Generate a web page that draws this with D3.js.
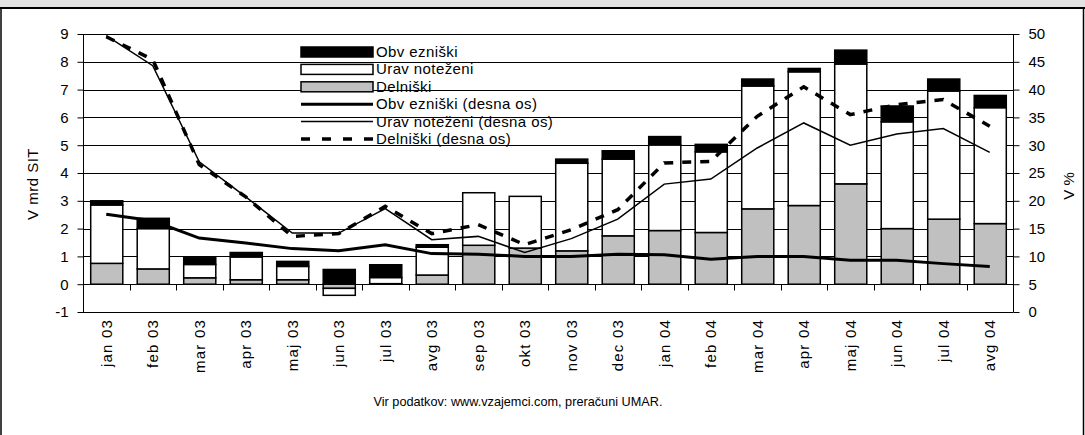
<!DOCTYPE html>
<html><head><meta charset="utf-8">
<script src="https://cdn.jsdelivr.net/npm/d3@7"></script>
<style>
html,body{margin:0;padding:0;background:#fff;}
svg{display:block;font-family:"Liberation Sans",Arial,sans-serif;}
</style></head>
<body>
<svg id="c" width="1085" height="435"></svg>
<script>
const categories = ["jan 03","feb 03","mar 03","apr 03","maj 03","jun 03","jul 03","avg 03","sep 03","okt 03","nov 03","dec 03","jan 04","feb 04","mar 04","apr 04","maj 04","jun 04","jul 04","avg 04"];
// bars, V mrd SIT
const delniski   = [0.75,0.55,0.23,0.16,0.16,-0.15,0.02,0.33,1.40,1.30,1.20,1.74,1.93,1.86,2.71,2.83,3.61,2.00,2.34,2.18];
const uravnotezeni = [2.10,1.45,0.48,0.82,0.48,-0.25,0.22,1.00,1.89,1.86,3.15,2.76,3.08,2.90,4.42,4.81,4.31,3.84,4.61,4.17];
const obvezniski = [0.15,0.37,0.24,0.16,0.18,0.53,0.46,0.09,0.00,0.00,0.15,0.30,0.30,0.27,0.25,0.12,0.50,0.57,0.43,0.44];
// lines, V % (right axis)
const obvezniskiPct = [17.6,16.4,13.3,12.4,11.4,11.0,12.1,10.5,10.4,10.0,10.0,10.4,10.3,9.5,10.0,10.0,9.3,9.3,8.7,8.2];
const uravnotezeniPct = [49.7,44.3,27.0,20.7,14.2,14.2,18.6,13.0,13.6,10.7,13.2,16.7,23.0,23.9,29.5,34.0,30.0,32.0,33.0,28.7];
const delniskiPct = [49.5,45.4,26.5,20.7,13.6,14.1,19.0,14.1,15.7,12.1,14.8,18.4,26.8,27.1,35.2,40.5,35.5,37.3,38.2,33.4];
const leftTicks = [-1,0,1,2,3,4,5,6,7,8,9];
const rightTicks = [0,5,10,15,20,25,30,35,40,45,50];
const legendLabels = ["Obv ezniški","Urav noteženi","Delniški","Obv ezniški (desna os)","Urav noteženi (desna os)","Delniški (desna os)"];
const leftTitle = "V mrd SIT", rightTitle = "V %";
const source = "Vir podatkov: www.vzajemci.com, preračuni UMAR.";

const svg = d3.select("#c");
const L = 83, R = 1013, T = 34, B = 312;

// frame
svg.append("rect").attr("x",0).attr("y",0).attr("width",1085).attr("height",8).attr("fill","#e3e3e3");
svg.append("line").attr("x1",0).attr("x2",1085).attr("y1",8).attr("y2",8).attr("stroke","#000").attr("stroke-width",2);
svg.append("line").attr("x1",1).attr("x2",1).attr("y1",8).attr("y2",435).attr("stroke","#000").attr("stroke-width",1.5);
svg.append("line").attr("x1",1083.5).attr("x2",1083.5).attr("y1",8).attr("y2",435).attr("stroke","#000").attr("stroke-width",1.5);

const x = d3.scaleBand().domain(categories).range([L,R]).paddingInner(0).paddingOuter(0);
const yL = d3.scaleLinear().domain([-1,9]).range([B,T]);
const yR = d3.scaleLinear().domain([0,50]).range([B,T]);
const crisp = v => Math.round(v)+0.5;

// gridlines
svg.append("g").selectAll("line").data(leftTicks).join("line")
  .attr("x1",L).attr("x2",R).attr("y1",d=>crisp(yL(d))).attr("y2",d=>crisp(yL(d)))
  .attr("stroke","#000").attr("stroke-width",1);

// bars
const rows = categories.map((c,i)=>({cat:c, D:delniski[i], U:uravnotezeni[i], O:obvezniski[i]}));
const stack = d3.stack().keys(["D","U","O"]).offset(d3.stackOffsetDiverging)(rows);
const fills = {D:"#c0c0c0", U:"#ffffff", O:"#000000"};
const bw = x.bandwidth()*0.69;
stack.forEach(layer=>{
  svg.append("g").selectAll("rect").data(layer.filter(d=>d[1]!==d[0])).join("rect")
    .attr("x", d=>x(d.data.cat)+(x.bandwidth()-bw)/2+0.5)
    .attr("width", bw)
    .attr("y", d=>yL(Math.max(d[0],d[1])))
    .attr("height", d=>Math.abs(yL(d[0])-yL(d[1])))
    .attr("fill", fills[layer.key]).attr("stroke","#000").attr("stroke-width",1.5);
});

// axes
svg.append("line").attr("x1",L+0.5).attr("x2",L+0.5).attr("y1",T).attr("y2",B+0.5).attr("stroke","#000");
svg.append("line").attr("x1",R+0.5).attr("x2",R+0.5).attr("y1",T).attr("y2",B+0.5).attr("stroke","#000");
const gl = svg.append("g").attr("transform",`translate(${L+0.5},0)`)
  .call(d3.axisLeft(yL).tickValues(leftTicks).tickSize(6).tickPadding(9).tickFormat(d=>String(d)));
const gr = svg.append("g").attr("transform",`translate(${R+0.5},0)`)
  .call(d3.axisRight(yR).tickValues(rightTicks).tickSize(6).tickPadding(9).tickFormat(d=>String(d)));
[gl,gr].forEach(g=>{
  g.select(".domain").remove();
  g.selectAll(".tick line").attr("stroke","#000");
  g.selectAll(".tick text").attr("font-size",15).attr("fill","#000").attr("font-family","Liberation Sans, Arial, sans-serif");
});
// category axis at zero
const y0 = crisp(yL(0));
svg.append("g").selectAll("line").data(categories.slice(1)).join("line")
  .attr("x1",d=>crisp(x(d))).attr("x2",d=>crisp(x(d))).attr("y1",y0).attr("y2",y0+6)
  .attr("stroke","#000");
svg.append("g").selectAll("text").data(categories).join("text")
  .attr("transform",d=>`translate(${x(d)+x.bandwidth()/2+5.5},319) rotate(-90)`)
  .attr("text-anchor","end").attr("font-size",15).attr("letter-spacing",1.2).attr("fill","#000").text(d=>d);

// lines
const lineGen = d3.line().x((d,i)=>x(categories[i])+x.bandwidth()/2).y(d=>yR(d));
svg.append("path").datum(uravnotezeniPct).attr("d",lineGen).attr("fill","none").attr("stroke","#000").attr("stroke-width",1.5);
svg.append("path").datum(delniskiPct).attr("d",lineGen).attr("fill","none").attr("stroke","#000").attr("stroke-width",3.5).attr("stroke-dasharray","9,9");
svg.append("path").datum(obvezniskiPct).attr("d",lineGen).attr("fill","none").attr("stroke","#000").attr("stroke-width",3);

// axis titles
svg.append("text").attr("transform","translate(38,184) rotate(-90)").attr("text-anchor","middle").attr("font-size",15).attr("letter-spacing",0.5).text(leftTitle);
svg.append("text").attr("transform","translate(1074,186) rotate(-90)").attr("text-anchor","middle").attr("font-size",15).text(rightTitle);

// legend
const lg = svg.append("g");
const lx0 = 301, lx1 = 373, ly0 = 52, ldy = 17.4;
legendLabels.forEach((lab,i)=>{
  const cy = ly0 + i*ldy;
  if(i<3){
    lg.append("rect").attr("x",lx0).attr("y",cy-5).attr("width",lx1-lx0).attr("height",10)
      .attr("fill",[fills.O,fills.U,fills.D][i]).attr("stroke","#000").attr("stroke-width",1.5);
  } else {
    const ln = lg.append("line").attr("x1",lx0).attr("x2",lx1).attr("y1",cy).attr("y2",cy).attr("stroke","#000");
    if(i===3) ln.attr("stroke-width",3);
    if(i===4) ln.attr("stroke-width",1.5);
    if(i===5) ln.attr("stroke-width",3.5).attr("stroke-dasharray","9,12");
  }
  lg.append("text").attr("x",lx1+3).attr("y",cy+5).attr("font-size",15).attr("letter-spacing",0.4).attr("fill","#000").text(lab);
});

// source
svg.append("text").attr("x",518).attr("y",406).attr("text-anchor","middle").attr("font-size",12.7).attr("fill","#000").text(source);
</script>
</body></html>
